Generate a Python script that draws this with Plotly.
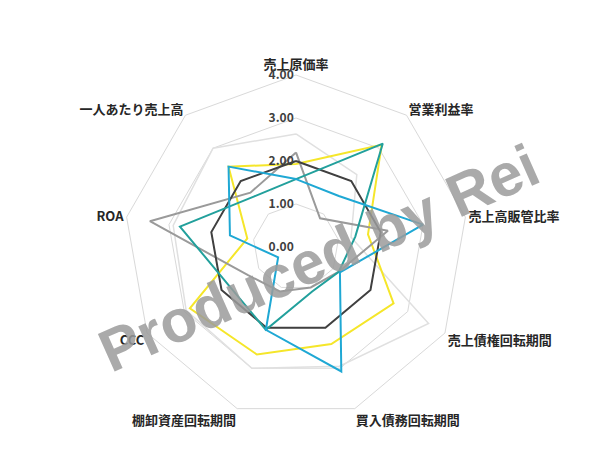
import plotly.graph_objects as go

categories = ["売上原価率", "営業利益率", "売上高販管比率", "売上債権回転期間",
              "買入債務回転期間", "棚卸資産回転期間", "CCC", "ROA", "一人あたり売上高"]

light_grey_vals = [2.63, 2.2, 1.3, 3.56, 2.95, 3.0, 2.95, 2.9, 3.0]
yellow_vals = [1.93, 3.1, 1.7, 2.62, 2.4, 2.66, 2.85, 1.15, 2.44]
grey_vals = [2.2, 0.87, 2.17, 1.15, 1.0, 1.1, 1.3, 3.45, 1.65]
dark_vals = [2.0, 2.0, 2.0, 2.0, 2.0, 2.0, 2.0, 2.0, 2.0]
teal_vals = [1.58, 3.14, 1.4, 1.15, 1.1, 2.05, 1.8, 2.74, 1.53]
cyan_vals = [1.58, 1.55, 3.0, 1.18, 3.08, 2.05, 0.48, 1.56, 2.44]

tick_vals = [0, 1, 2, 3, 4]
tick_text = ["0.00", "1.00", "2.00", "3.00", "4.00"]

series = [
    ("light", light_grey_vals, "#E0E0E0", 1.5),
    ("yellow", yellow_vals, "#F5E62A", 2),
    ("grey", grey_vals, "#9A9A9A", 2),
    ("dark", dark_vals, "#404040", 2),
    ("teal", teal_vals, "#22A09C", 2),
    ("cyan", cyan_vals, "#1FA8D4", 2),
]

fig = go.Figure()
for name, vals, col, w in series:
    fig.add_trace(go.Scatterpolar(
        r=vals + vals[:1],
        theta=categories + categories[:1],
        mode="lines",
        line=dict(color=col, width=w),
        name=name,
        hoverinfo="skip",
    ))

cx, cy, R = 288, 239, 172
W, H = 599, 470
fig.update_layout(
    width=W, height=H,
    margin=dict(l=0, r=0, t=0, b=0),
    paper_bgcolor="white",
    plot_bgcolor="white",
    showlegend=False,
    polar=dict(
        domain=dict(x=[(cx - R) / W, (cx + R) / W],
                    y=[(H - cy - R) / H, (H - cy + R) / H]),
        bgcolor="white",
        gridshape="linear",
        radialaxis=dict(
            range=[0, 4],
            tickvals=tick_vals,
            ticktext=tick_text,
            angle=90,
            tickangle=90,
            side="counterclockwise",
            showline=False,
            ticks="",
            gridcolor="#D9D9D9",
            gridwidth=1,
            tickfont=dict(family="Noto Sans CJK JP", size=12, color="#404040", weight="bold"),
        ),
        angularaxis=dict(
            rotation=90,
            direction="clockwise",
            showgrid=False,
            showline=True,
            linecolor="#D9D9D9",
            linewidth=1,
            ticks="",
            tickfont=dict(family="Noto Sans CJK JP", size=13, color="#262626", weight="bold"),
        ),
    ),
    annotations=[dict(
        text="Produced by Rei",
        x=310 / W, y=1 - 250 / H, xref="paper", yref="paper",
        showarrow=False, textangle=-24,
        font=dict(family="Liberation Sans", size=60, color="rgba(155,155,155,0.85)", weight="bold"),
    )],
)

fig.write_html("out.html")
